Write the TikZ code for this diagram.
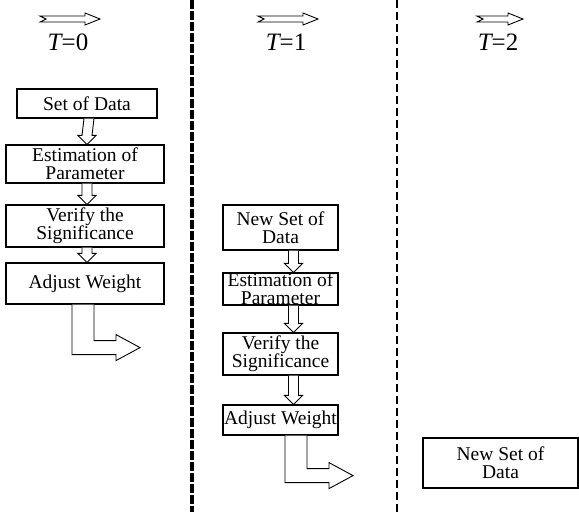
\documentclass[tikz,border=0pt]{standalone}
\usepackage{fontspec}
\setmainfont{Liberation Serif}
\usetikzlibrary{calc,positioning}

\tikzset{
  stepbox/.style={draw,line width=1.2pt,inner sep=0pt,align=center,
    font=\fontsize{19.5}{18}\selectfont},
  hollowarrow/.style={draw,line width=0.9pt,fill=white},
  tlabel/.style={font=\fontsize{25}{25}\selectfont}
}

% hollow arrow straight down from one box to the next
\newcommand{\linkdown}[3]{%
  \draw[hollowarrow] ([xshift=#3pt-5pt]#1.south) -- ([xshift=#3pt-5pt,yshift=9pt]#2.north)
    -- ([xshift=#3pt-9pt,yshift=9pt]#2.north) -- ([xshift=#3pt]#2.north)
    -- ([xshift=#3pt+9pt,yshift=9pt]#2.north) -- ([xshift=#3pt+5pt,yshift=9pt]#2.north)
    -- ([xshift=#3pt+5pt]#1.south);}
% bent hollow arrow leaving a box
\newcommand{\bentarrow}[3]{%
  \draw[hollowarrow] ([xshift=#2pt]#1.south) -- ++(0,#3) -- ++(44,0) -- ++(0,6)
    -- ++(24,-13) -- ++(-24,-13) -- ++(0,6) -- ++(-22,0) -- ++(0,{-(#3-14)});}
% time arrow above a T label
\newcommand{\timearrow}[3]{%
  \draw[hollowarrow] ([xshift=#2pt,yshift=23pt]#1.center) ++(0,-3) -- ++(#3-15,0) -- ++(0,-3)
    -- ++(15,6) -- ++(-15,6) -- ++(0,-3) -- ++({-(#3-15)},0) -- ++(6,-3) -- cycle;}

\begin{document}
\begin{tikzpicture}[x=1pt,y=-1pt]
\useasboundingbox (0,0) rectangle (579,512);
% separators
\draw[dashed,line width=3.2pt,dash pattern=on 9pt off 2pt] (192,0) -- (192,512);
\draw[dashed,line width=1.8pt,dash pattern=on 8pt off 4pt] (397,0) -- (397,512);
% time steps
\node[tlabel] (t0) at (68,42) {\itshape T\upshape =0};
\node[tlabel] (t1) at (286,42) {\itshape T\upshape =1};
\node[tlabel] (t2) at (498,42) {\itshape T\upshape =2};
\timearrow{t0}{-28}{60}
\timearrow{t1}{-28}{60}
\timearrow{t2}{-21}{46}
% T=0
\node[stepbox,minimum width=140,minimum height=29] (data0) at (87,103.5) {Set of Data};
\node[stepbox,minimum width=158,minimum height=38] (est0) at (85,164) {Estimation of\\Parameter};
\node[stepbox,minimum width=158,minimum height=42] (ver0) at (85,226) {Verify the\\Significance};
\node[stepbox,minimum width=158,minimum height=41] (adj0) at (85,283.5) {Adjust Weight};
\linkdown{data0}{est0}{2}
\linkdown{est0}{ver0}{2}
\linkdown{ver0}{adj0}{2}
\bentarrow{adj0}{-13}{50}
% T=1
\node[stepbox,minimum width=115,minimum height=45] (data1) at (280.5,227.5) {New Set of\\Data};
\node[stepbox,minimum width=115,minimum height=32] (est1) at (280.5,289) {Estimation of\\Parameter};
\node[stepbox,minimum width=115,minimum height=42] (ver1) at (280.5,354) {Verify the\\Significance};
\node[stepbox,minimum width=115,minimum height=30] (adj1) at (280.5,420) {Adjust Weight};
\linkdown{data1}{est1}{13}
\linkdown{est1}{ver1}{13}
\linkdown{ver1}{adj1}{13}
\bentarrow{adj1}{4.5}{47}
% T=2
\node[stepbox,minimum width=155,minimum height=50] (data2) at (500.5,463) {New Set of\\Data};
\end{tikzpicture}
\end{document}
